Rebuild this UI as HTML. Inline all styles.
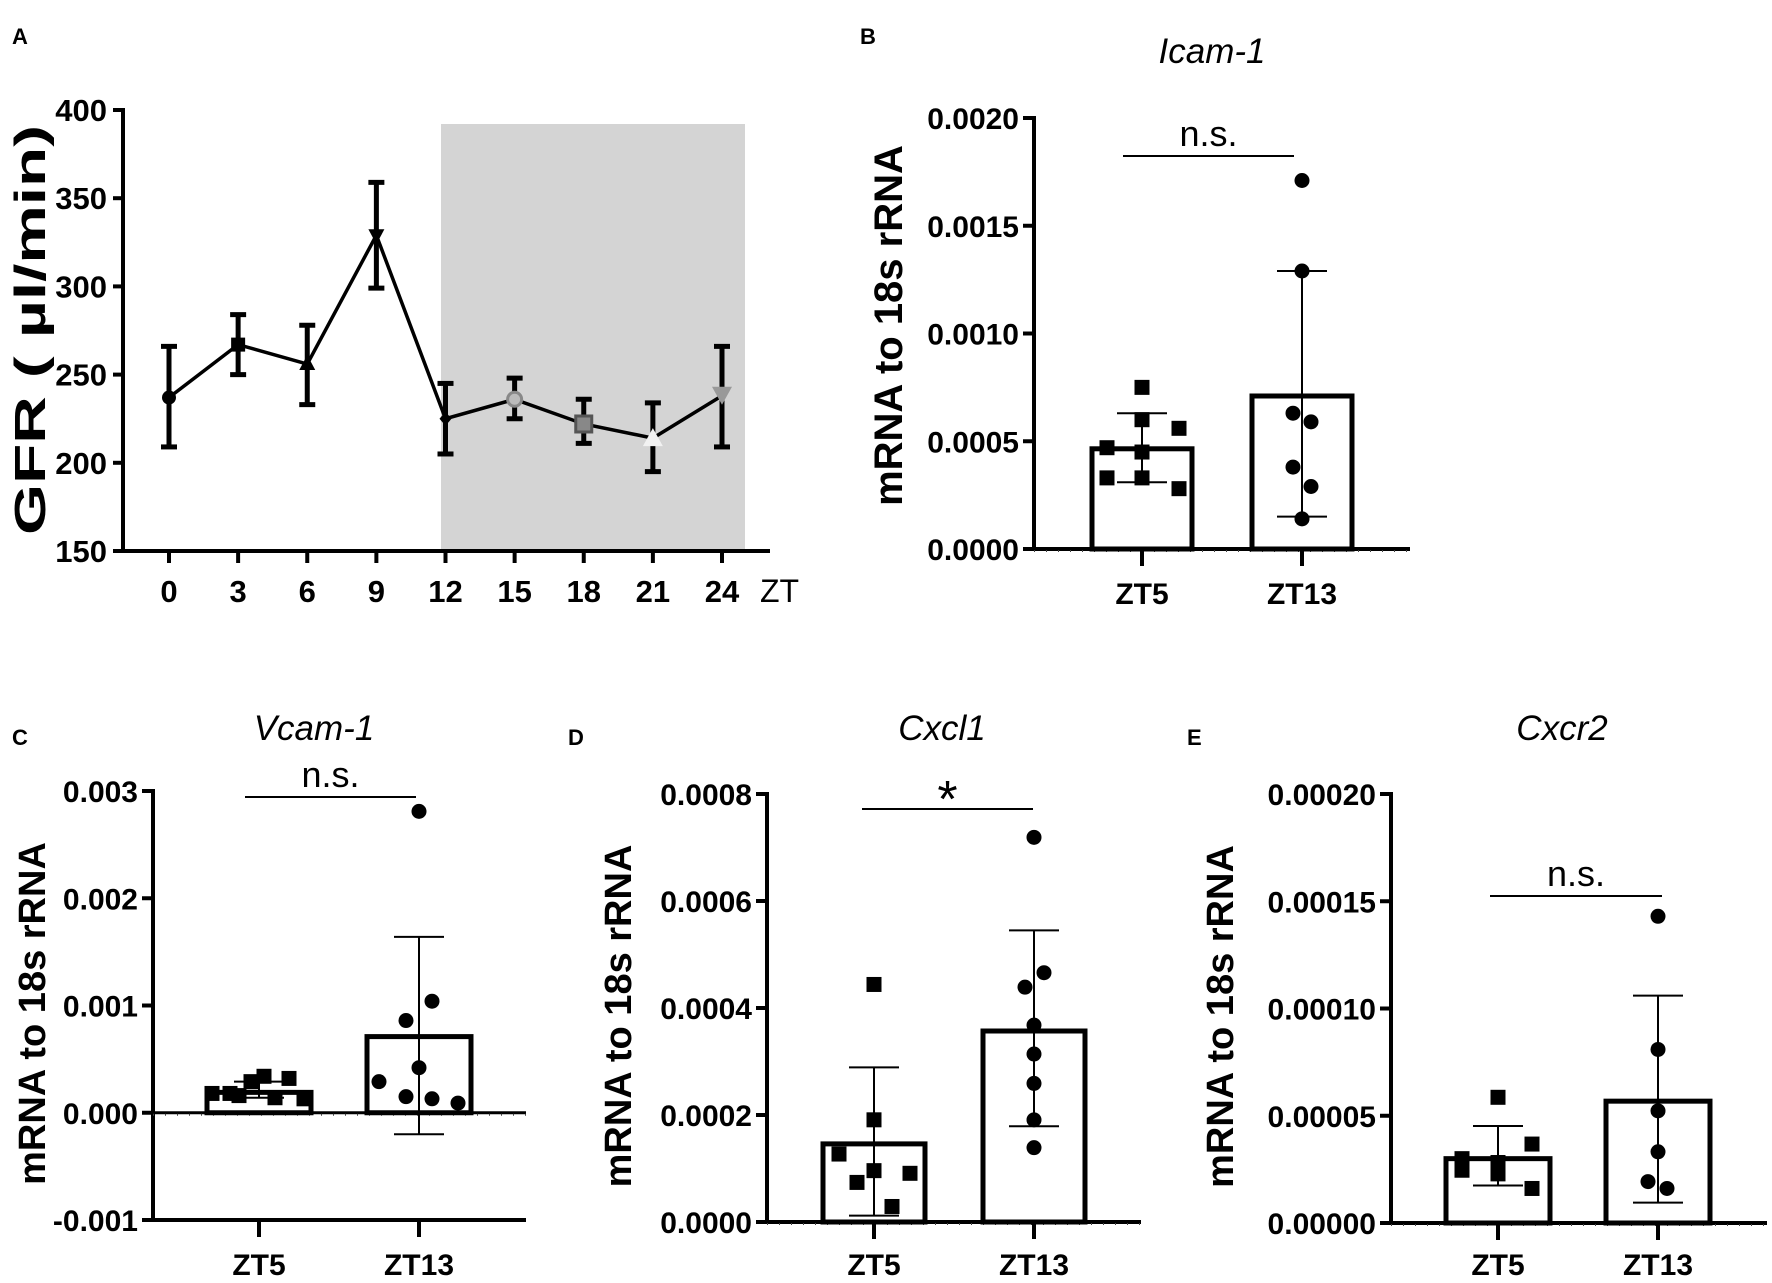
<!DOCTYPE html>
<html><head><meta charset="utf-8"><style>
html,body{margin:0;padding:0;background:#fff}
svg{display:block}
text{font-family:"Liberation Sans",Arial,sans-serif;fill:#000}
</style></head><body>
<svg id="fig" width="1772" height="1283" viewBox="0 0 1772 1283" xmlns="http://www.w3.org/2000/svg">
<rect width="1772" height="1283" fill="#fff"/>
<text x="12" y="44" font-size="22" font-weight="bold">A</text>
<text x="860" y="44" font-size="22" font-weight="bold">B</text>
<text x="12" y="745" font-size="22" font-weight="bold">C</text>
<text x="568" y="745" font-size="22" font-weight="bold">D</text>
<text x="1187" y="745" font-size="22" font-weight="bold">E</text>
<g id="layer"></g>
</svg>
<script>
// ---- Panel A data ----
const aZT = [0,3,6,9,12,15,18,21,24];
const aMean = [237,267,256,329,225,236,222,214,238];
const aLow = [209,250,233,299,205,225,211,195,209];
const aHigh = [266,284,278,359,245,248,236,234,266];
const aYTicks = [150,200,250,300,350,400];
// ---- Panel B (Icam-1) ----
const bZT5 = [0.00075,0.0006,0.00056,0.00047,0.00045,0.00033,0.00033,0.00028];
const bZT13 = [0.00171,0.00129,0.00063,0.00059,0.00038,0.00029,0.00014];
const bMean = [0.000465,0.00071];
const bLow = [0.00031,0.00015];
const bHigh = [0.00063,0.00129];
const bTicks = ["0.0000","0.0005","0.0010","0.0015","0.0020"];
// ---- Panel C (Vcam-1) ----
const cZT5 = [0.00018,0.00018,0.00016,0.00029,0.00034,0.00014,0.00032,0.00013];
const cZT13 = [0.00281,0.00104,0.00086,0.00042,0.00029,0.00015,0.00013,0.00009];
const cMean = [0.00019,0.00071];
const cLow = [0.00014,-0.0002];
const cHigh = [0.00029,0.00164];
const cTicks = ["-0.001","0.000","0.001","0.002","0.003"];
// ---- Panel D (Cxcl1) ----
const dZT5 = [0.000444,0.000191,0.000127,0.000096,0.000091,0.000074,0.000029];
const dZT13 = [0.000719,0.000466,0.000439,0.000368,0.000314,0.000259,0.000191,0.000139];
const dMean = [0.000146,0.000357];
const dLow = [0.000012,0.000179];
const dHigh = [0.000289,0.000545];
const dTicks = ["0.0000","0.0002","0.0004","0.0006","0.0008"];
// ---- Panel E (Cxcr2) ----
const eZT5 = [0.0000586,0.0000368,0.00003,0.0000282,0.0000229,0.0000246,0.0000161];
const eZT13 = [0.000143,0.0000809,0.0000523,0.0000332,0.0000193,0.0000161];
const eMean = [0.00003,0.0000568];
const eLow = [0.0000175,0.0000095];
const eHigh = [0.0000452,0.000106];
const eTicks = ["0.00000","0.00005","0.00010","0.00015","0.00020"];
const groups = ["ZT5","ZT13"];

const NS="http://www.w3.org/2000/svg";
const layer=document.getElementById('layer');
function mk(tag,attrs,parent){const e=document.createElementNS(NS,tag);for(const k in attrs)e.setAttribute(k,attrs[k]);(parent||layer).appendChild(e);return e;}
function txt(s,attrs,parent){const e=mk('text',attrs,parent);e.textContent=s;return e;}

// ---------- Panel A ----------
(function(){
  const g=mk('g',{});
  
  
  const x=v=>169+(v-0)*(722-169)/24;
  const y=v=>551-(v-150)*(551-110)/250;
  const sh=mk('rect',{x:441,y:124,width:304,height:427,fill:'#d4d4d4'},g);
  
  
  mk('line',{x1:123,y1:108,x2:123,y2:553,stroke:'#000','stroke-width':4},g);
  mk('line',{x1:114,y1:551,x2:770,y2:551,stroke:'#000','stroke-width':4},g);
  aYTicks.forEach(t=>{
    mk('line',{x1:113,y1:y(t),x2:123,y2:y(t),stroke:'#000','stroke-width':4},g);
    const tt=txt(String(t),{x:107,y:y(t)+11,'text-anchor':'end','font-size':31,'font-weight':'bold'},g);
    
    
  });
  aZT.forEach(t=>{
    mk('line',{x1:x(t),y1:551,x2:x(t),y2:563,stroke:'#000','stroke-width':4},g);
    const tt=txt(String(t),{x:x(t),y:602,'text-anchor':'middle','font-size':31,'font-weight':'bold'},g);
    
    
  });
  const zt=txt('ZT',{x:760,y:602,'font-size':32},g);
  
  
  const yt=txt('GFR ( µl/min)',{transform:'translate(45,330) rotate(-90)','text-anchor':'middle','font-size':44,'font-weight':'bold',textLength:410,lengthAdjust:'spacingAndGlyphs'},g);
  
  
  aZT.forEach((t,i)=>{
    const eb=mk('g',{},g);
    
    
    mk('line',{x1:x(t),y1:y(aLow[i]),x2:x(t),y2:y(aHigh[i]),stroke:'#000','stroke-width':5},eb);
    mk('line',{x1:x(t)-8,y1:y(aLow[i]),x2:x(t)+8,y2:y(aLow[i]),stroke:'#000','stroke-width':5},eb);
    mk('line',{x1:x(t)-8,y1:y(aHigh[i]),x2:x(t)+8,y2:y(aHigh[i]),stroke:'#000','stroke-width':5},eb);
  });
  const pts=aZT.map((t,i)=>x(t)+','+y(aMean[i])).join(' ');
  const pl=mk('polyline',{points:pts,fill:'none',stroke:'#000','stroke-width':3.5},g);
  
  
  const shapes=['circle','square','tri','itri','diamond','circleO','squareO','triW','itriG'];
  aZT.forEach((t,i)=>{
    const cx=x(t),cy=y(aMean[i]);let m;const s=shapes[i];
    if(s==='circle')m=mk('circle',{cx,cy,r:7,fill:'#000'},g);
    else if(s==='square')m=mk('rect',{x:cx-7,y:cy-7,width:14,height:14,fill:'#000'},g);
    else if(s==='tri')m=mk('polygon',{points:`${cx},${cy-9} ${cx-8},${cy+6} ${cx+8},${cy+6}`,fill:'#000'},g);
    else if(s==='itri')m=mk('polygon',{points:`${cx},${cy+9} ${cx-8},${cy-6} ${cx+8},${cy-6}`,fill:'#000'},g);
    else if(s==='diamond')m=mk('polygon',{points:`${cx},${cy-7} ${cx-6},${cy} ${cx},${cy+7} ${cx+6},${cy}`,fill:'#000'},g);
    else if(s==='circleO')m=mk('circle',{cx,cy,r:7,fill:'#bbb',stroke:'#888','stroke-width':3},g);
    else if(s==='squareO')m=mk('rect',{x:cx-8,y:cy-8,width:16,height:16,fill:'#888',stroke:'#555','stroke-width':3},g);
    else if(s==='triW')m=mk('polygon',{points:`${cx},${cy-10} ${cx-10},${cy+8} ${cx+10},${cy+8}`,fill:'#f2f2f2'},g);
    else m=mk('polygon',{points:`${cx},${cy+9} ${cx-10},${cy-9} ${cx+10},${cy-9}`,fill:'#999'},g);
    
    
  });
})();

// ---------- Bar panels ----------
function barPanel(cfg){
  const g=mk('g',{});
  
  
  const vmin=parseFloat(cfg.ticks[0]),vmax=parseFloat(cfg.ticks[cfg.ticks.length-1]);
  const y=v=>cfg.yBot-(v-vmin)*(cfg.yBot-cfg.yTop)/(vmax-vmin);
  const y0=y(0);
  mk('line',{x1:cfg.ax,y1:cfg.yTop-2,x2:cfg.ax,y2:cfg.yBot+2,stroke:'#000','stroke-width':4},g);
  mk('line',{x1:cfg.ax-10,y1:cfg.yBot,x2:cfg.axEnd,y2:cfg.yBot,stroke:'#000','stroke-width':4},g);
  if(y0!==cfg.yBot){mk('line',{x1:cfg.ax-10,y1:y0,x2:cfg.axEnd,y2:y0,stroke:'#000','stroke-width':3},g);}
  mk('line',{x1:cfg.ax,y1:y0+2,x2:cfg.axEnd,y2:y0+2,stroke:'#444','stroke-width':2,'stroke-dasharray':'1 11'},g);
  cfg.ticks.forEach(t=>{
    const v=parseFloat(t),ty=y(v);
    mk('line',{x1:cfg.ax-11,y1:ty,x2:cfg.ax,y2:ty,stroke:'#000','stroke-width':4},g);
    const tt=txt(t,{x:cfg.ax-15,y:ty+11,'text-anchor':'end','font-size':cfg.tf,'font-weight':'bold'},g);
    
    
  });
  const tl=txt(cfg.title,{x:cfg.titleX,y:cfg.titleY,'text-anchor':'middle','font-size':35,'font-style':'italic'},g);
  
  
  const yt=txt('mRNA to 18s rRNA',{transform:`translate(${cfg.ytX},${(cfg.yTop+cfg.yBot)/2+cfg.ytDy}) rotate(-90)`,'text-anchor':'middle','font-size':cfg.ytf,'font-weight':'bold'},g);
  
  
  const series=[cfg.s1,cfg.s2];
  groups.forEach((gname,i)=>{
    const cx=cfg.cx[i];
    mk('line',{x1:cx,y1:cfg.yBot,x2:cx,y2:cfg.yBot+17,stroke:'#000','stroke-width':4},g);
    const xl=txt(gname,{x:cx,y:cfg.xlY,'text-anchor':'middle','font-size':30,'font-weight':'bold'},g);
    
    
    const top=y(cfg.mean[i]);
    const b=mk('rect',{x:cx-cfg.bw/2,y:top,width:cfg.bw,height:y0-top,fill:'#fff',stroke:'#000','stroke-width':5},g);
    
    
    const eb=mk('g',{},g);
    
    
    mk('line',{x1:cx,y1:y(cfg.low[i]),x2:cx,y2:y(cfg.high[i]),stroke:'#000','stroke-width':2},eb);
    mk('line',{x1:cx-25,y1:y(cfg.low[i]),x2:cx+25,y2:y(cfg.low[i]),stroke:'#000','stroke-width':2},eb);
    mk('line',{x1:cx-25,y1:y(cfg.high[i]),x2:cx+25,y2:y(cfg.high[i]),stroke:'#000','stroke-width':2},eb);
    series[i].forEach((v,j)=>{
      const px=cx+cfg.jit[i][j],py=y(v);let m;
      if(i===0)m=mk('rect',{x:px-7.5,y:py-7.5,width:15,height:15,fill:'#000'},g);
      else m=mk('circle',{cx:px,cy:py,r:7.5,fill:'#000'},g);
      
      
    });
  });
  mk('line',{x1:cfg.sig[0],y1:cfg.sig[2],x2:cfg.sig[1],y2:cfg.sig[2],stroke:'#000','stroke-width':2},g);
  const star=cfg.sigText==='*';
  const st=txt(cfg.sigText,{x:(cfg.sig[0]+cfg.sig[1])/2,y:cfg.sig[2]+(star?8:-10),'text-anchor':'middle','font-size':star?52:36},g);
  
  
}
barPanel({name:'panel-b-icam1-chart',title:'Icam-1',titleX:1212,titleY:63,ax:1034,axEnd:1410,yTop:118,yBot:549,ticks:bTicks,tf:30,ytX:902,ytDy:-8,ytf:40,xlY:604,
  cx:[1142,1302],bw:100,s1:bZT5,s2:bZT13,mean:bMean,low:bLow,high:bHigh,
  jit:[[0,0,37,-35,0,-35,0,37],[0,0,-9,9,-9,9,0]],sig:[1123,1294,156],sigText:'n.s.'});
barPanel({name:'panel-c-vcam1-chart',title:'Vcam-1',titleX:314,titleY:740,ax:153,axEnd:526,yTop:791,yBot:1220,ticks:cTicks,tf:30,ytX:45,ytDy:8,ytf:38,xlY:1275,
  cx:[259,419],bw:104,s1:cZT5,s2:cZT13,mean:cMean,low:cLow,high:cHigh,
  jit:[[-47,-29,-20,-8,5,16,30,45],[0,13,-13,0,-40,-13,13,39]],sig:[245,416,797],sigText:'n.s.'});
barPanel({name:'panel-d-cxcl1-chart',title:'Cxcl1',titleX:942,titleY:740,ax:767,axEnd:1141,yTop:794,yBot:1222,ticks:dTicks,tf:30,ytX:631,ytDy:8,ytf:38,xlY:1275,
  cx:[874,1034],bw:102,s1:dZT5,s2:dZT13,mean:dMean,low:dLow,high:dHigh,
  jit:[[0,0,-35,0,36,-17,18],[0,10,-9,0,0,0,0,0]],sig:[862,1033,809],sigText:'*'});
barPanel({name:'panel-e-cxcr2-chart',title:'Cxcr2',titleX:1562,titleY:740,ax:1391,axEnd:1767,yTop:794,yBot:1223,ticks:eTicks,tf:30,ytX:1233,ytDy:8,ytf:38,xlY:1275,
  cx:[1498,1658],bw:104,s1:eZT5,s2:eZT13,mean:eMean,low:eLow,high:eHigh,
  jit:[[0,34,-36,0,0,-36,34],[0,0,0,0,-10,9]],sig:[1490,1662,896],sigText:'n.s.'});
</script>
</body></html>
